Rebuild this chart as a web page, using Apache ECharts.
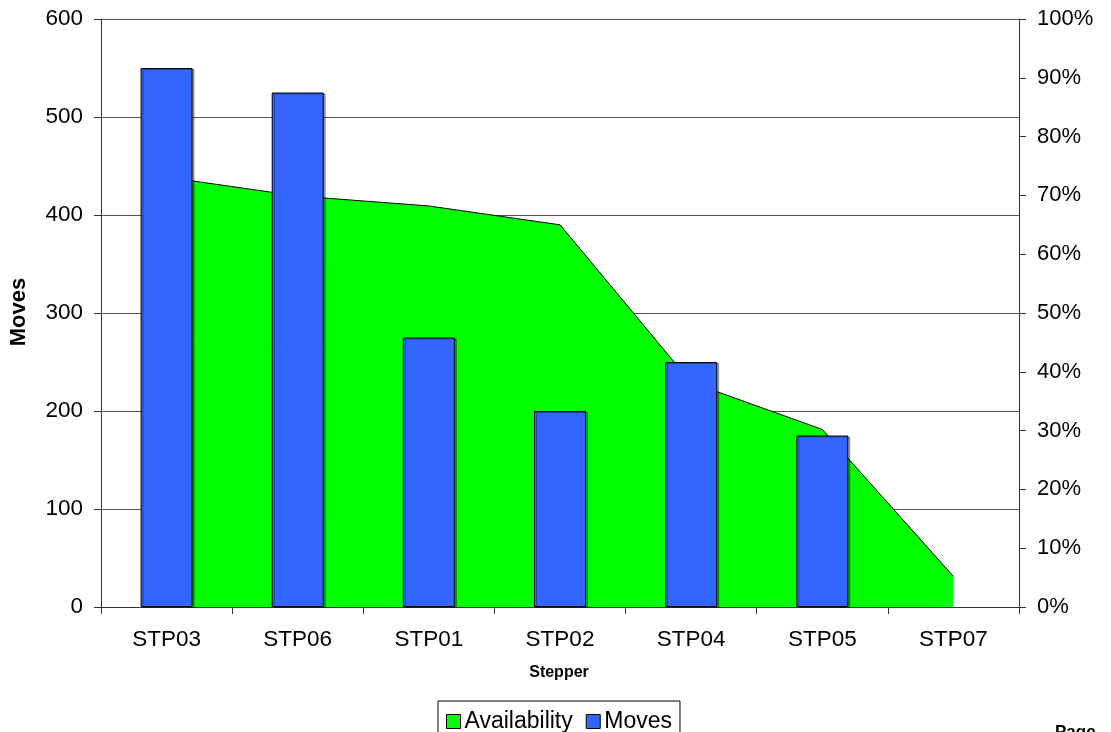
<!DOCTYPE html>
<html>
<head>
<meta charset="utf-8">
<script src="https://cdn.jsdelivr.net/npm/echarts@6/dist/echarts.min.js"></script>
<style>
html,body{margin:0;padding:0;background:#fff;}
#chart{width:1111px;height:732px;}
</style>
</head>
<body>
<div id="chart"></div>
<script>
const categories = ['STP03','STP06','STP01','STP02','STP04','STP05','STP07'];
const availability = [73.1, 69.9, 68.2, 65.0, 38.2, 30.2, 5.2];
const moves = [550, 525, 275, 200, 250, 175, null];
const leftTicks = {min: 0, max: 600, interval: 100};
const rightTicks = {min: 0, max: 100, interval: 10};

const FONT = '"Liberation Sans", Arial, sans-serif';
const chart = echarts.init(document.getElementById('chart'));
chart.setOption({
  animation: false,
  backgroundColor: '#ffffff',
  textStyle: {fontFamily: FONT, color: '#000'},
  grid: {left: 101, right: 92, top: 19, bottom: 125, containLabel: false},
  legend: {
    left: 438, top: 701,
    padding: [9, 8, 9, 8],
    borderColor: '#000', borderWidth: 1,
    icon: 'rect', itemWidth: 14, itemHeight: 14, itemGap: 13,
    itemStyle: {borderColor: '#000', borderWidth: 1},
    textStyle: {fontFamily: FONT, fontSize: 23, color: '#000', padding: [0,0,0,-1]},
    data: [
      {name: 'Availability', itemStyle: {color: '#00FF00', borderColor: '#000', borderWidth: 1}},
      {name: 'Moves', itemStyle: {color: '#3366FF', borderColor: '#000', borderWidth: 1}}
    ]
  },
  xAxis: {
    type: 'category', data: categories, boundaryGap: true,
    axisLine: {lineStyle: {color: '#333', width: 1}},
    axisTick: {show: true, length: 7, inside: false, lineStyle: {color: '#333'}},
    axisLabel: {fontFamily: FONT, fontSize: 22.5, color: '#000', margin: 21},
    splitLine: {show: false}
  },
  yAxis: [
    {
      type: 'value', min: leftTicks.min, max: leftTicks.max, interval: leftTicks.interval,
      axisLine: {show: true, lineStyle: {color: '#333', width: 1}},
      axisTick: {show: true, length: 7, lineStyle: {color: '#333'}},
      axisLabel: {fontFamily: FONT, fontSize: 22.5, color: '#000', margin: 18},
      splitLine: {show: true, lineStyle: {color: '#555', width: 1}}
    },
    {
      type: 'value', position: 'right', min: rightTicks.min, max: rightTicks.max, interval: rightTicks.interval,
      axisLine: {show: true, lineStyle: {color: '#333', width: 1}},
      axisTick: {show: true, length: 7, lineStyle: {color: '#333'}},
      axisLabel: {fontFamily: FONT, fontSize: 22, color: '#000', margin: 18, formatter: '{value}%'},
      splitLine: {show: false}
    }
  ],
  series: [
    {
      name: 'Availability', type: 'line', yAxisIndex: 1, data: availability,
      showSymbol: false, symbol: 'none', z: 1,
      color: '#00FF00',
      itemStyle: {color: '#00FF00'},
      lineStyle: {color: '#000', width: 1},
      areaStyle: {color: '#00FF00', opacity: 1}
    },
    {
      name: 'Moves', type: 'bar', yAxisIndex: 0, data: moves,
      barWidth: 52, z: 3,
      itemStyle: {color: '#3366FF', borderColor: '#000', borderWidth: 1,
        shadowColor: 'rgba(0,0,0,0.35)', shadowOffsetX: 2, shadowOffsetY: 1, shadowBlur: 0}
    }
  ],
  graphic: [
    {type: 'text', x: 19, y: 312, rotation: Math.PI / 2,
      style: {text: 'Moves', fontFamily: FONT, fontSize: 22, fontWeight: 'bold', fill: '#000', align: 'center', verticalAlign: 'middle'}},
    {type: 'text', x: 559, y: 673,
      style: {text: 'Stepper', fontFamily: FONT, fontSize: 16, fontWeight: 'bold', fill: '#000', align: 'center', verticalAlign: 'middle'}},
    {type: 'text', x: 1055, y: 724,
      style: {text: 'Page', fontFamily: FONT, fontSize: 17, fontWeight: 'bold', fill: '#000', align: 'left', verticalAlign: 'top'}}
  ]
});
</script>
</body>
</html>
